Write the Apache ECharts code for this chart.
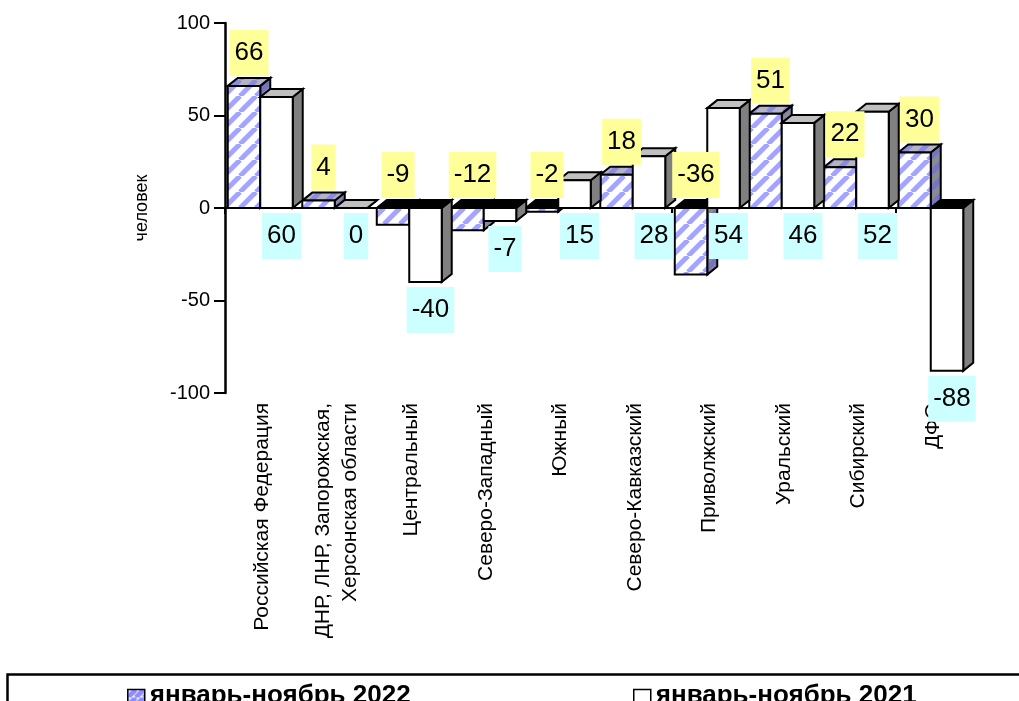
<!DOCTYPE html>
<html><head><meta charset="utf-8">
<script src="https://cdn.jsdelivr.net/npm/echarts@6/dist/echarts.min.js"></script>
<style>html,body{margin:0;padding:0;background:#fff}#c{width:1019px;height:701px}</style>
</head><body><div id="c"></div>
<script>
const categories = ['Российская Федерация', 'ДНР, ЛНР, Запорожская,\nХерсонская области', 'Центральный', 'Северо-Западный', 'Южный', 'Северо-Кавказский', 'Приволжский', 'Уральский', 'Сибирский', 'ДФО'];
const series2022 = [66, 4, -9, -12, -2, 18, -36, 51, 22, 30];
const series2021 = [60, 0, -40, -7, 15, 28, 54, 46, 52, -88];
const seriesNames = ['январь-ноябрь 2022', 'январь-ноябрь 2021'];
const yMin = -100, yMax = 100, yStep = 50;

function hatch(bg, stripe, size, lw) {
  const c = document.createElement('canvas'); c.width = size; c.height = size;
  const g = c.getContext('2d'); g.fillStyle = bg; g.fillRect(0, 0, size, size);
  g.strokeStyle = stripe; g.lineWidth = lw;
  for (let k = -1; k <= 1; k++) { g.beginPath(); g.moveTo(k * size, size); g.lineTo(k * size + size, 0); g.stroke(); }
  return { image: c, repeat: 'repeat' };
}
const frontHatch = hatch('#ffffff', '#a4a4ff', 16, 5);
const sideHatch = hatch('#8a8a96', '#7474c0', 16, 5);
const topHatch = hatch('#b4b4c4', '#8c8cdc', 16, 5);
const legendIcon = hatch('#ffffff', '#8c8cff', 8, 5);

function makeRender(s) {
  return function (params, api) {
    const i = api.value(0), v = api.value(1);
    const base = api.coord([i, 0]);
    const tip = api.coord([i, v]);
    const band = api.size([1, 0])[0];
    const w = band * 0.436;
    const L = base[0] - 2 - w + s * w, R = L + w;
    const yT = Math.min(base[1], tip[1]), yB = Math.max(base[1], tip[1]);
    const dx = 10, dy = 8;
    const stroke = '#000';
    const lw = 2;
    const front = s === 0 ? frontHatch : '#ffffff';
    const side = s === 0 ? sideHatch : '#808080';
    const topC = v < 0 ? '#000000' : (s === 0 ? topHatch : '#c0c0c0');
    const children = [
      { type: 'polygon', shape: { points: [[R, yT], [R + dx, yT - dy], [R + dx, yB - dy], [R, yB]] }, style: { fill: side, stroke, lineWidth: lw, lineJoin: 'miter' } },
      { type: 'polygon', shape: { points: [[L, yT], [L + dx, yT - dy], [R + dx, yT - dy], [R, yT]] }, style: { fill: topC, stroke, lineWidth: lw, lineJoin: 'miter' } },
      { type: 'rect', shape: { x: L, y: yT, width: w, height: yB - yT }, style: { fill: front, stroke, lineWidth: lw } }
    ];
    const lx = (L + R) / 2 + 5;
    const ly = s === 0 ? api.coord([i, Math.max(v, 0)])[1] - 33 : api.coord([i, Math.min(v, 0)])[1] + 28;
    children.push({
      type: 'text', z2: 100,
      style: {
        text: String(v), x: lx, y: ly, align: 'center', verticalAlign: 'middle',
        fill: '#000', font: '26px "Liberation Sans", Arial, sans-serif',
        backgroundColor: s === 0 ? '#ffff99' : '#ccffff', padding: [10, 5, 10, 5]
      }
    });
    return { type: 'group', children };
  };
}

const chart = echarts.init(document.getElementById('c'), null, { renderer: 'canvas' });
const font = '"Liberation Sans", Arial, sans-serif';
const legendText = { fontSize: 26, fontWeight: 'bold', color: '#000', fontFamily: font };
chart.setOption({
  animation: false,
  backgroundColor: '#fff',
  grid: { left: 225, right: 49, top: 23, bottom: 308 },
  xAxis: [
    {
      type: 'category', data: categories, position: 'bottom',
      axisLine: { onZero: true, lineStyle: { color: '#000', width: 2 } },
      axisTick: { show: true, length: 6, lineStyle: { color: '#000', width: 2 } },
      axisLabel: { show: false }, splitLine: { show: false }
    },
    {
      type: 'category', data: categories, position: 'bottom',
      axisLine: { show: false, onZero: false }, axisTick: { show: false },
      axisLabel: { rotate: 90, margin: 10, interval: 0, fontSize: 21, lineHeight: 27, color: '#000', fontFamily: font }
    }
  ],
  yAxis: {
    type: 'value', min: yMin, max: yMax, interval: yStep,
    name: 'человек', nameLocation: 'middle', nameRotate: 90, nameGap: 74,
    nameTextStyle: { fontSize: 18, color: '#000', fontFamily: font },
    axisLine: { show: true, lineStyle: { color: '#000', width: 2.5 } },
    axisTick: { show: true, length: 11, lineStyle: { color: '#000', width: 2 } },
    axisLabel: { fontSize: 20, color: '#000', margin: 15, fontFamily: font },
    splitLine: { show: false }
  },
  legend: [
    { data: [{ name: seriesNames[0], itemStyle: { color: legendIcon, borderColor: '#000', borderWidth: 1.5 } }],
      left: 122, top: 678, icon: 'rect', itemWidth: 17, itemHeight: 13, itemGap: 0, textStyle: legendText },
    { data: [{ name: seriesNames[1], itemStyle: { color: '#fff', borderColor: '#000', borderWidth: 1.5 } }],
      left: 628, top: 678, icon: 'rect', itemWidth: 17, itemHeight: 13, itemGap: 0, textStyle: legendText }
  ],
  graphic: [
    { type: 'rect', left: 5, top: 672, shape: { width: 1100, height: 100 }, style: { fill: 'none', stroke: '#000', lineWidth: 2.5 }, silent: true }
  ],
  series: [
    { name: seriesNames[0], type: 'custom', xAxisIndex: 0, renderItem: makeRender(0),
      itemStyle: { color: frontHatch, borderColor: '#000', borderWidth: 1 },
      encode: { x: 0, y: 1 }, data: series2022.map((v, i) => [i, v]) },
    { name: seriesNames[1], type: 'custom', xAxisIndex: 0, renderItem: makeRender(1),
      itemStyle: { color: '#ffffff', borderColor: '#000', borderWidth: 1 },
      encode: { x: 0, y: 1 }, data: series2021.map((v, i) => [i, v]) }
  ]
});
</script></body></html>
